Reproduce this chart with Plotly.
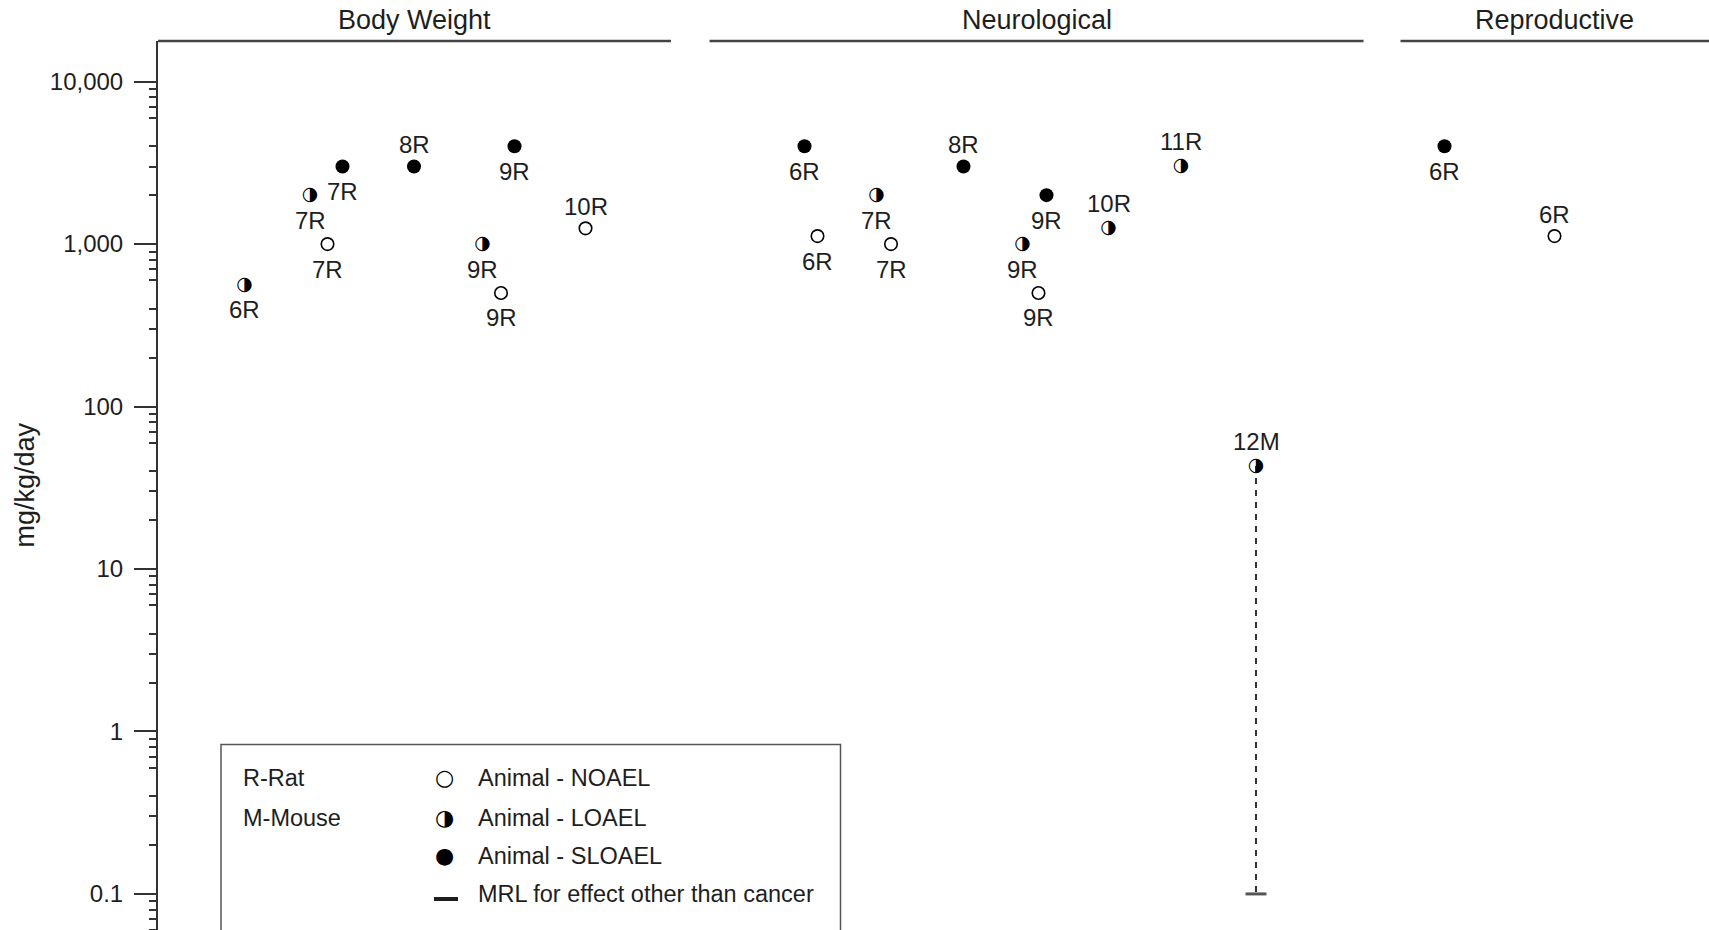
import numpy as np
import plotly.graph_objects as go

# ---------------- data ----------------
endpoint = (["Body Weight"] * 9) + (["Neurological"] * 11) + (["Reproductive"] * 2)
study = ["6R", "7R", "7R", "7R", "8R", "9R", "9R", "9R", "10R",
         "6R", "6R", "7R", "7R", "8R", "9R", "9R", "9R", "10R", "11R", "12M",
         "6R", "6R"]
effect = ["LOAEL", "LOAEL", "NOAEL", "SLOAEL", "SLOAEL", "LOAEL", "NOAEL", "SLOAEL", "NOAEL",
          "SLOAEL", "NOAEL", "LOAEL", "NOAEL", "SLOAEL", "LOAEL", "NOAEL", "SLOAEL", "LOAEL", "LOAEL", "LOAEL",
          "SLOAEL", "NOAEL"]
dose = [560, 2000, 1000, 3000, 3000, 1000, 500, 4000, 1250,
        4000, 1120, 2000, 1000, 3000, 1000, 500, 2000, 1250, 3000, 43,
        4000, 1120]
xpos = [1.73, 3.04, 3.39, 3.69, 5.12, 6.49, 6.86, 7.13, 8.55,
        12.93, 13.19, 14.37, 14.66, 16.11, 17.29, 17.61, 17.77, 19.01, 20.46, 21.96,
        25.73, 27.93]
label_side = ["below", "below", "below", "below", "above", "below", "below", "below", "above",
              "below", "below", "below", "below", "above", "below", "below", "below", "above", "above", "above",
              "below", "above"]

mrl_study = ["12M"]
mrl_value = [0.1]

panel_names = ["Body Weight", "Neurological", "Reproductive"]
panel_x0 = [0.0, 11.03, 24.85]
panel_x1 = [10.26, 24.11, 31.02]

tick_vals = [0.1, 1, 10, 100, 1000, 10000]
tick_text = ["0.1", "1", "10", "100", "1,000", "10,000"]

# ---------------- styling ----------------
FONT = "Liberation Sans, Arial, sans-serif"
TXT = "#1e1e1e"
AX = "#333333"

decades = [0.01, 0.1, 1, 10, 100, 1000]
minor_vals = [m * d for d in decades for m in (2, 3, 4, 6, 7, 8, 9)]
five_vals = [5 * d for d in decades]

fig = go.Figure()

# dashed line from the 12M point down to the MRL
i12 = study.index("12M")
fig.add_trace(go.Scatter(
    x=[xpos[i12], xpos[i12]], y=[dose[i12], mrl_value[0]],
    mode="lines", line=dict(color="black", width=1.6, dash="6px,6px"),
    hoverinfo="skip", showlegend=False))

# MRL marker
fig.add_trace(go.Scatter(
    x=[xpos[i12]], y=mrl_value, mode="markers",
    marker=dict(symbol="line-ew", size=15, line=dict(width=3, color="#555555")),
    showlegend=False))

def sel(kind):
    idx = [i for i, e in enumerate(effect) if e == kind]
    return [xpos[i] for i in idx], [dose[i] for i in idx]

nx, ny = sel("NOAEL")
fig.add_trace(go.Scatter(
    x=nx, y=ny, mode="markers",
    marker=dict(symbol="circle", size=12.5, color="white", line=dict(color="black", width=1.6)),
    showlegend=False))

sx, sy = sel("SLOAEL")
fig.add_trace(go.Scatter(
    x=sx, y=sy, mode="markers",
    marker=dict(symbol="circle", size=14, color="black", line=dict(width=0)),
    showlegend=False))

lx, ly = sel("LOAEL")
fig.add_trace(go.Scatter(
    x=lx, y=ly, mode="text", text=["\u25D1"] * len(lx), textposition="middle center",
    textfont=dict(family="DejaVu Sans", size=19, color="black"),
    showlegend=False))

annotations = []
for s, xv, dv, side, ef in zip(study, xpos, dose, label_side, effect):
    if side == "above":
        shift = 25 if ef == "LOAEL" else 22
    else:
        shift = -25
    annotations.append(dict(
        x=xv, y=np.log10(dv), xref="x", yref="y", text=s, showarrow=False,
        yshift=shift, font=dict(family=FONT, size=24, color=TXT)))

shapes = []
for name, a, b in zip(panel_names, panel_x0, panel_x1):
    shapes.append(dict(type="line", xref="x", yref="paper", x0=a, x1=b, y0=1, y1=1,
                       line=dict(color="#444444", width=2.5)))
    annotations.append(dict(x=(a + b) / 2, y=1, xref="x", yref="paper", text=name,
                            showarrow=False, yanchor="middle", yshift=21,
                            font=dict(family=FONT, size=27, color=TXT)))

# y-axis title
annotations.append(dict(x=0, y=0.5, xref="paper", yref="paper", text="mg/kg/day",
                        textangle=-90, showarrow=False, xanchor="center", yanchor="middle",
                        xshift=-134, font=dict(family=FONT, size=27, color=TXT)))

# legend box
shapes.append(dict(type="rect", xref="x", yref="paper", x0=1.26, x1=13.65, y0=-0.05, y1=0.2087,
                   line=dict(color="#555555", width=1.5), fillcolor="white", layer="below"))
rows = [0.171, 0.1265, 0.0836, 0.0405]
for t, yy in zip(["R-Rat", "M-Mouse"], rows[:2]):
    annotations.append(dict(x=1.66, y=yy, xref="x", yref="paper", text=t, showarrow=False,
                            xanchor="left", yanchor="middle",
                            font=dict(family=FONT, size=23.5, color=TXT)))
leg_txt = ["Animal - NOAEL", "Animal - LOAEL", "Animal - SLOAEL", "MRL for effect other than cancer"]
leg_sym = ["\u25CB", "\u25D1", "\u25CF", ""]
for t, g, yy in zip(leg_txt, leg_sym, rows):
    annotations.append(dict(x=6.35, y=yy, xref="x", yref="paper", text=t, showarrow=False,
                            xanchor="left", yanchor="middle",
                            font=dict(family=FONT, size=23.5, color=TXT)))
    if g:
        annotations.append(dict(x=5.73, y=yy, xref="x", yref="paper", text=g, showarrow=False,
                                xanchor="center", yanchor="middle",
                                font=dict(family="DejaVu Sans", size=22, color="black")))
shapes.append(dict(type="line", xref="x", yref="paper", x0=5.52, x1=6.00, y0=0.0349, y1=0.0349,
                   line=dict(color="#1e1e1e", width=4)))

yr = [-1.222, 4.25]
fig.update_layout(
    width=1709, height=930,
    margin=dict(l=158, r=0, t=41, b=0),
    paper_bgcolor="white", plot_bgcolor="white",
    xaxis=dict(range=[0, 31.02], visible=False, fixedrange=True),
    yaxis=dict(type="log", range=yr, showline=True, linecolor=AX, linewidth=2,
               ticks="outside", ticklen=22, tickwidth=2, tickcolor=AX,
               tickmode="array", tickvals=tick_vals, ticktext=tick_text,
               tickfont=dict(family=FONT, size=24, color=TXT), ticklabelstandoff=6,
               showgrid=False, zeroline=False,
               minor=dict(ticks="outside", ticklen=7, tickwidth=1.5, tickcolor=AX,
                          tickmode="array", tickvals=minor_vals, showgrid=False)),
    yaxis2=dict(type="log", range=yr, overlaying="y", side="left", anchor="x",
                showline=False, ticks="outside", ticklen=14, tickwidth=1.5, tickcolor=AX,
                tickmode="array", tickvals=five_vals, showticklabels=False,
                showgrid=False, zeroline=False),
    shapes=shapes, annotations=annotations,
    showlegend=False,
)

fig.write_html("out.html", config={"displayModeBar": False},
               post_script="document.body.style.margin='0';")
